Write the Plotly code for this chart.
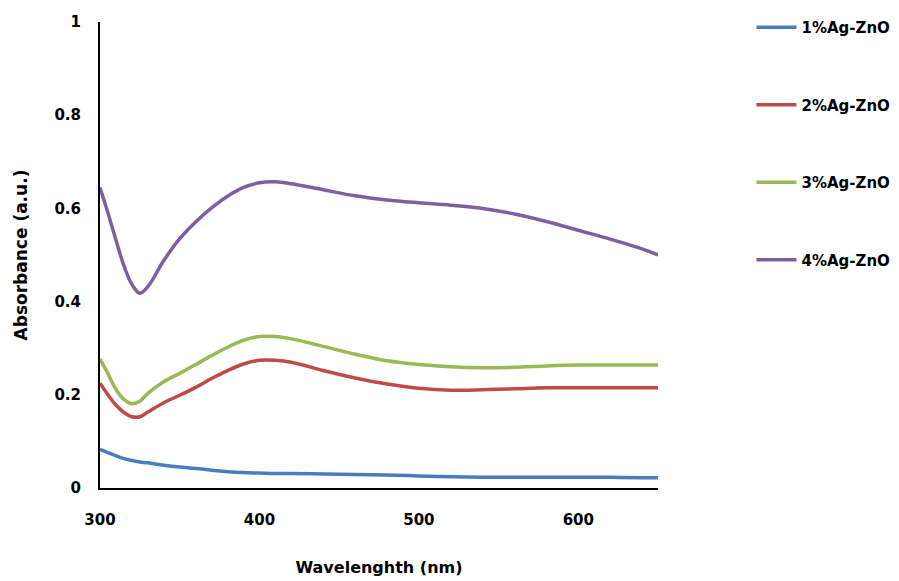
import plotly.graph_objects as go

wavelength = [300, 305, 310, 315, 320, 325, 330, 340, 350, 360, 370, 380, 390, 400,
              410, 420, 440, 460, 480, 500, 520, 540, 560, 580, 600, 620, 640, 650]

ag1 = [0.083, 0.076, 0.069, 0.063, 0.059, 0.056, 0.054, 0.049, 0.045, 0.042, 0.038, 0.035,
       0.033, 0.032, 0.031, 0.031, 0.030, 0.029, 0.028, 0.026, 0.024, 0.023, 0.023, 0.023,
       0.023, 0.023, 0.022, 0.022]
ag2 = [0.225, 0.200, 0.178, 0.162, 0.153, 0.153, 0.163, 0.183, 0.199, 0.216, 0.235, 0.252,
       0.266, 0.274, 0.274, 0.270, 0.252, 0.236, 0.223, 0.214, 0.210, 0.211, 0.213, 0.215,
       0.215, 0.215, 0.215, 0.215]
ag3 = [0.277, 0.245, 0.212, 0.190, 0.181, 0.186, 0.203, 0.228, 0.246, 0.265, 0.284, 0.302,
       0.317, 0.325, 0.325, 0.320, 0.304, 0.287, 0.273, 0.265, 0.260, 0.258, 0.259, 0.262,
       0.264, 0.264, 0.264, 0.264]
ag4 = [0.645, 0.590, 0.532, 0.477, 0.437, 0.418, 0.432, 0.488, 0.535, 0.571, 0.601, 0.626,
       0.645, 0.655, 0.657, 0.653, 0.640, 0.627, 0.618, 0.612, 0.607, 0.600, 0.588, 0.572,
       0.553, 0.534, 0.513, 0.500]

series_names = ["1%Ag-ZnO", "2%Ag-ZnO", "3%Ag-ZnO", "4%Ag-ZnO"]
series_values = [ag1, ag2, ag3, ag4]
colors = ["#4a7ebb", "#be4b48", "#98b954", "#7d60a0"]

x_ticks = [300, 400, 500, 600]
y_ticks = [0, 0.2, 0.4, 0.6, 0.8, 1]
y_tick_labels = ["0", "0.2", "0.4", "0.6", "0.8", "1"]

FONT = "DejaVu Sans"

fig = go.Figure()
for name, vals, col in zip(series_names, series_values, colors):
    fig.add_trace(go.Scatter(
        x=wavelength, y=vals, name=name, mode="lines",
        line=dict(color=col, width=3.5, shape="spline", smoothing=1.0),
        legendgroup=name,
    ))

fig.update_layout(
    width=899, height=581,
    margin=dict(l=92, r=249, t=14, b=101, autoexpand=False),
    paper_bgcolor="white", plot_bgcolor="white",
    font=dict(family=FONT, size=15, color="black", weight="bold"),
    showlegend=True,
    legend=dict(
        x=1.1675, y=1.0236, xanchor="left", yanchor="top",
        font=dict(family=FONT, size=15, color="black", weight="bold"),
        tracegroupgap=55, itemwidth=40, bgcolor="rgba(0,0,0,0)",
    ),
    xaxis=dict(
        range=[300, 650], tickvals=x_ticks, ticks="", showgrid=False, zeroline=False,
        showline=True, linecolor="black", linewidth=2,
        ticklabelstandoff=17,
        tickfont=dict(family=FONT, size=15, weight="bold"),
        title=dict(text="Wavelenghth (nm)", standoff=34,
                   font=dict(family=FONT, size=16, weight="bold")),
    ),
    yaxis=dict(
        range=[0, 1], tickvals=y_ticks, ticktext=y_tick_labels, ticks="",
        showgrid=False, zeroline=False,
        showline=True, linecolor="black", linewidth=2,
        ticklabelstandoff=14,
        tickfont=dict(family=FONT, size=15, weight="bold"),
        title=dict(text="Absorbance (a.u.)", standoff=22,
                   font=dict(family=FONT, size=17, weight="bold")),
    ),
)

fig.write_html("out.html")
